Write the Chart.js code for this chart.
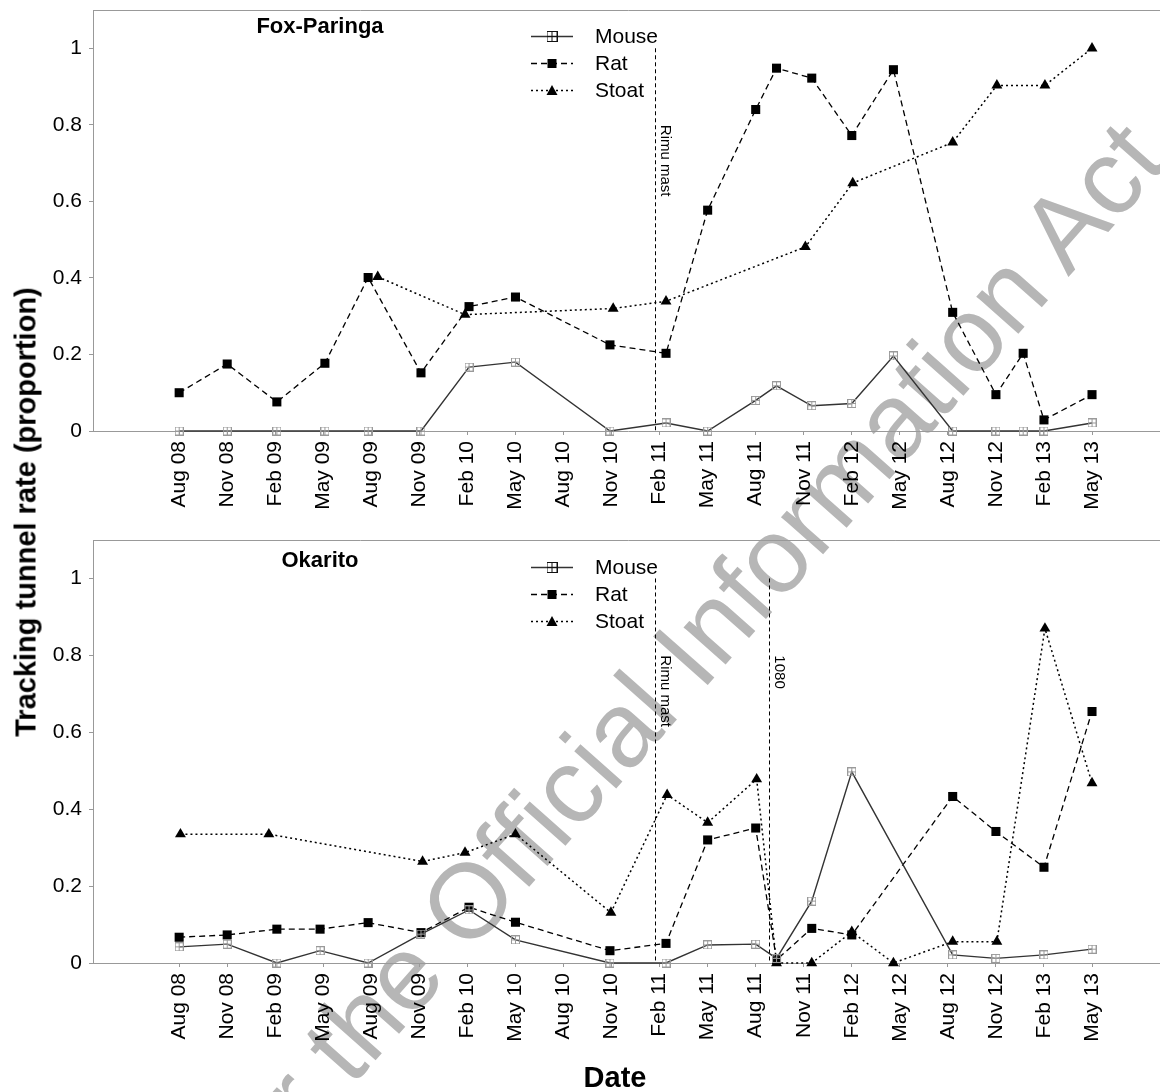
<!DOCTYPE html>
<html>
<head>
<meta charset="utf-8">
<title>Tracking tunnel rates</title>
<script src="https://cdn.jsdelivr.net/npm/chart.js@4.4.0/dist/chart.umd.min.js"></script>
<style>
  html, body { margin: 0; padding: 0; background: #fff; }
  #wrap { position: relative; width: 1160px; height: 1092px; overflow: hidden; }
  canvas { position: absolute; left: 0; }
  #top { top: 0; }
  #bottom { top: 530px; }
  .lbl { position: absolute; font-family: "Liberation Sans", Arial, sans-serif; font-weight: bold;
         color: #000; white-space: nowrap; line-height: 1; }
  #ytitle { left: 26px; top: 512px; font-size: 29px; transform: translate(-50%, -50%) rotate(-90deg); }
  #xtitle { left: 615px; top: 1077px; font-size: 29px; transform: translate(-50%, -50%); }
  #stamp { left: 475px; top: 892px; font-size: 106px; font-weight: normal; color: #b6b6b6;
           transform: translate(-50%, -50%) rotate(-48.5deg); }
</style>
</head>
<body>
<div id="wrap">
  <div id="stamp" class="lbl">Released under the Official Information Act</div>
  <canvas id="top" width="1170" height="530"></canvas>
  <canvas id="bottom" width="1170" height="562"></canvas>
  <div id="ytitle" class="lbl">Tracking tunnel rate (proportion)</div>
  <div id="xtitle" class="lbl">Date</div>
</div>
<script>
// x values are months counted from Jan 2008 (Aug 08 = 7)
const tickMonths = [7, 10, 13, 16, 19, 22, 25, 28, 31, 34, 37, 40, 43, 46, 49, 52, 55, 58, 61, 64];
const tickLabels = ["Aug 08", "Nov 08", "Feb 09", "May 09", "Aug 09", "Nov 09", "Feb 10", "May 10",
                    "Aug 10", "Nov 10", "Feb 11", "May 11", "Aug 11", "Nov 11", "Feb 12", "May 12",
                    "Aug 12", "Nov 12", "Feb 13", "May 13"];
const yTicks = [0, 0.2, 0.4, 0.6, 0.8, 1];

// Fox-Paringa
const foxDates  = [7, 10, 13.1, 16.1, 18.8, 22.1, 25.1, 28, 33.9, 37.4, 40, 43, 44.3, 46.5, 49, 51.6, 55.3, 58, 59.7, 61, 64];
const foxMouse  = [0, 0, 0, 0, 0, 0, 0.167, 0.18, 0, 0.021, 0, 0.08, 0.118, 0.066, 0.072, 0.196, 0, 0, 0, 0, 0.021];
const foxRat    = [0.10, 0.175, 0.076, 0.177, 0.401, 0.152, 0.325, 0.35, 0.225, 0.203, 0.577, 0.84, 0.948, 0.922, 0.772, 0.944, 0.31, 0.095, 0.203, 0.029, 0.095];
const foxStoatDates = [19.4, 24.85, 34.1, 37.4, 46.1, 49.06, 55.3, 58.06, 61.06, 64];
const foxStoat      = [0.403, 0.304, 0.32, 0.339, 0.481, 0.648, 0.754, 0.903, 0.903, 1.0];
const foxEvents     = [36.73];
const foxEventNames = ["Rimu mast"];

// Okarito
const okaDates  = [7, 10, 13.1, 15.8, 18.8, 22.1, 25.1, 28, 33.9, 37.4, 40, 43, 44.3, 46.5, 49, 55.3, 58, 61, 64];
const okaMouse  = [0.042, 0.049, 0, 0.032, 0, 0.075, 0.138, 0.06, 0, 0, 0.047, 0.049, 0.012, 0.161, 0.497, 0.021, 0.012, 0.021, 0.036];
const okaRat    = [0.067, 0.073, 0.088, 0.088, 0.105, 0.079, 0.145, 0.106, 0.032, 0.051, 0.32, 0.351, 0.008, 0.09, 0.073, 0.433, 0.342, 0.249, 0.654];
const okaStoatDates = [7.08, 12.6, 22.2, 24.85, 28, 33.96, 37.47, 40, 43.06, 44.3, 46.5, 49, 51.6, 55.3, 58.06, 61.06, 64];
const okaStoat      = [0.335, 0.335, 0.264, 0.287, 0.335, 0.131, 0.4375, 0.365, 0.478, 0, 0, 0.081, 0, 0.0555, 0.0555, 0.87, 0.468];
const okaEvents     = [36.73, 43.84];
const okaEventNames = ["Rimu mast", "1080"];

const FONT = '"Liberation Sans", Arial, sans-serif';
Chart.defaults.font.family = FONT;
Chart.defaults.color = '#000';

function boxMarker(color, size) {
    const c = document.createElement('canvas');
    c.width = size; c.height = size;
    const g = c.getContext('2d');
    g.strokeStyle = color;
    g.lineWidth = 1;
    g.strokeRect(0.5, 0.5, size - 1, size - 1);
    g.beginPath();
    g.moveTo(size / 2, 0); g.lineTo(size / 2, size);
    g.moveTo(0, size / 2); g.lineTo(size, size / 2);
    g.stroke();
    return c;
}
const mouseDot = boxMarker('#9a9a9a', 9);
const mouseKey = boxMarker('#111', 11);

function pairs(xs, ys) {
    return xs.map((x, i) => ({ x: x, y: ys[i] }));
}

function makeSets(dates, mouse, rat, stoatDates, stoat) {
    return [
        { label: 'Mouse', key: 'box', data: pairs(dates, mouse), borderColor: '#333', borderWidth: 1.4,
          pointStyle: mouseDot, pointRadius: 5 },
        { label: 'Rat', key: 'rect', data: pairs(dates, rat), borderColor: '#000', borderWidth: 1.3,
          borderDash: [6, 4], pointStyle: 'rect', pointRadius: 6.4, pointBackgroundColor: '#000', pointBorderWidth: 0 },
        { label: 'Stoat', key: 'tri', data: pairs(stoatDates, stoat), borderColor: '#000', borderWidth: 1.5,
          borderDash: [2, 3], pointStyle: 'triangle', pointRadius: 6.3, pointBackgroundColor: '#000', pointBorderWidth: 0 }
    ];
}

// frame top, event lines, panel title and legend
const decor = {
    id: 'decor',
    beforeDatasetsDraw(chart, args, opts) {
        const { ctx, chartArea: a, scales: { x, y } } = chart;
        ctx.save();
        ctx.strokeStyle = '#999';
        ctx.lineWidth = 1;
        ctx.beginPath();
        ctx.moveTo(a.left, a.top + 0.5);
        ctx.lineTo(a.right, a.top + 0.5);
        ctx.stroke();

        ctx.strokeStyle = '#000';
        ctx.setLineDash([4, 3]);
        opts.events.forEach((at, i) => {
            const px = Math.round(x.getPixelForValue(at)) + 0.5;
            ctx.beginPath();
            ctx.moveTo(px, y.getPixelForValue(1));
            ctx.lineTo(px, y.getPixelForValue(0));
            ctx.stroke();
            ctx.save();
            ctx.translate(px + 5, y.getPixelForValue(0.8));
            ctx.rotate(Math.PI / 2);
            ctx.font = '15px ' + FONT;
            ctx.fillStyle = '#000';
            ctx.textAlign = 'left';
            ctx.textBaseline = 'alphabetic';
            ctx.fillText(opts.eventNames[i], 0, 0);
            ctx.restore();
        });
        ctx.restore();
    },
    afterDraw(chart, args, opts) {
        const { ctx, chartArea: a } = chart;
        ctx.save();
        ctx.fillStyle = '#000';
        ctx.font = 'bold 22px ' + FONT;
        ctx.textAlign = 'center';
        ctx.textBaseline = 'middle';
        ctx.fillText(opts.title, 320, a.top + opts.titleDy);

        chart.data.datasets.forEach((ds, i) => {
            const yy = a.top + opts.legendDy + i * 27;
            ctx.strokeStyle = ds.borderColor;
            ctx.lineWidth = ds.borderWidth;
            ctx.setLineDash(ds.borderDash || []);
            ctx.beginPath();
            ctx.moveTo(531, yy);
            ctx.lineTo(573, yy);
            ctx.stroke();
            ctx.setLineDash([]);
            if (ds.key === 'box') {
                ctx.drawImage(mouseKey, 552 - 5.5, yy - 5.5);
            } else if (ds.key === 'rect') {
                ctx.fillRect(552 - 4.5, yy - 4.5, 9, 9);
            } else {
                ctx.beginPath();
                ctx.moveTo(552, yy - 5.5);
                ctx.lineTo(557.5, yy + 4.5);
                ctx.lineTo(546.5, yy + 4.5);
                ctx.closePath();
                ctx.fill();
            }
            ctx.font = '21px ' + FONT;
            ctx.textAlign = 'left';
            ctx.fillText(ds.label, 595, yy + 1);
        });
        ctx.restore();
    }
};

function panel(id, xHeight, datasets, decorOpts) {
    return new Chart(document.getElementById(id), {
        type: 'line',
        data: { datasets: datasets },
        plugins: [decor],
        options: {
            responsive: false,
            animation: false,
            devicePixelRatio: 1,
            events: [],
            clip: false,
            layout: { padding: { top: 10, left: 0, right: 5, bottom: 0 } },
            datasets: { line: { clip: false, tension: 0, fill: false } },
            plugins: { legend: { display: false }, tooltip: { enabled: false }, decor: decorOpts },
            scales: {
                x: {
                    type: 'linear', min: 1.62, max: 68.47,
                    afterBuildTicks: s => { s.ticks = tickMonths.map(v => ({ value: v })); },
                    afterFit: s => { s.height = xHeight; s.paddingLeft = 0; s.paddingRight = 0; },
                    ticks: { font: { size: 21 }, color: '#000', minRotation: 90, maxRotation: 90,
                             autoSkip: false, padding: 6,
                             callback: v => tickLabels[tickMonths.indexOf(v)] },
                    grid: { drawOnChartArea: false, tickLength: 4, color: '#999' },
                    border: { color: '#999', width: 1 }
                },
                y: {
                    min: 0, max: 1.1,
                    afterBuildTicks: s => { s.ticks = yTicks.map(v => ({ value: v })); },
                    afterFit: s => { s.width = 93; s.paddingTop = 0; s.paddingBottom = 0; },
                    ticks: { font: { size: 21 }, color: '#000', padding: 7, callback: v => String(v) },
                    grid: { drawOnChartArea: false, tickLength: 4, color: '#999' },
                    border: { color: '#999', width: 1 }
                }
            }
        }
    });
}

panel('top', 99, makeSets(foxDates, foxMouse, foxRat, foxStoatDates, foxStoat),
      { title: 'Fox-Paringa', titleDy: 17, legendDy: 26.5, events: foxEvents, eventNames: foxEventNames });
panel('bottom', 129, makeSets(okaDates, okaMouse, okaRat, okaStoatDates, okaStoat),
      { title: 'Okarito', titleDy: 21, legendDy: 27.5, events: okaEvents, eventNames: okaEventNames });
</script>
</body>
</html>
